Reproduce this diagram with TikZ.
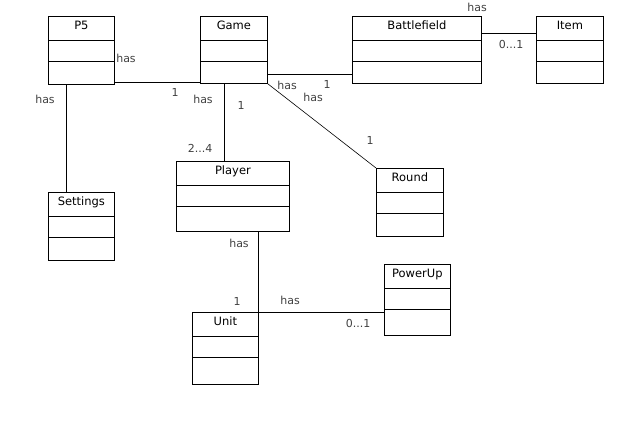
\documentclass[tikz,border=0pt]{standalone}
\usepackage{fontspec}
\setmainfont{DejaVu Sans}
\pgfdeclarelayer{bg}
\pgfsetlayers{bg,main}
\tikzset{
  cls/.style={draw, line width=0.8pt, anchor=north west, inner xsep=0pt, inner ysep=0pt,
    minimum width=67pt, text height=13pt, text depth=55pt,
    font=\fontsize{11.5}{13}\selectfont,
    path picture={
      \draw[line width=0.8pt] ([yshift=-24pt]path picture bounding box.north west) -- ([yshift=-24pt]path picture bounding box.north east);
      \draw[line width=0.8pt] ([yshift=-45pt]path picture bounding box.north west) -- ([yshift=-45pt]path picture bounding box.north east);
    }},
  lbl/.style={text=black!75, inner sep=0pt, font=\fontsize{11}{13}\selectfont},
  assoc/.style={line width=0.8pt}
}

\begin{document}
\begin{tikzpicture}[x=1pt, y=-1pt]
        \useasboundingbox (0,0) rectangle (631,444);
        % classes
        \node (p5) [cls, minimum width=66pt] at (48,16) {P5};
        \node (game) [cls, text depth=54pt] at (200,16) {Game};
        \node (battlefield) [cls, minimum width=129pt, text depth=54pt] at (352,16) {Battlefield};
        \node (item) [cls, text depth=54pt] at (536,16) {Item};
        \node (settings) [cls, minimum width=66pt] at (48,192) {Settings};
        \node (player) [cls, minimum width=113pt, text depth=57pt] at (176,161) {Player};
        \node (round) [cls] at (376,168) {Round};
        \node (powerup) [cls, minimum width=66pt, text depth=58pt] at (384,264) {PowerUp};
        \node (unit) [cls, minimum width=66pt, text depth=59pt] at (192,312) {Unit};
        % labels
        \node (lp5has) [lbl] at (126,58) {has};
        \node (lp5one) [lbl] at (175,92) {1};
        \node (lsethas) [lbl] at (45,99) {has};
        \node (lplhas) [lbl] at (203,99) {has};
        \node (lplone) [lbl] at (241,105) {1};
        \node (lplmult) [lbl] at (200,148) {2...4};
        \node (lbfhas) [lbl] at (287,85) {has};
        \node (lbfone) [lbl] at (327,84) {1};
        \node (lrdhas) [lbl] at (313,97) {has};
        \node (lrdone) [lbl] at (370,140) {1};
        \node (lithas) [lbl] at (477,7) {has};
        \node (litmult) [lbl] at (511,44) {0...1};
        \node (lunhas) [lbl] at (239,243) {has};
        \node (lunone) [lbl] at (237,301) {1};
        \node (lpuhas) [lbl] at (290,300) {has};
        \node (lpumult) [lbl] at (358,323) {0...1};
        \begin{pgfonlayer}{bg}
                \draw [assoc] ([yshift=1pt]game.south west -| p5.east) -- ([yshift=1pt]game.south west);
                \draw [assoc] ([xshift=-15pt]p5.south) -- ([xshift=-15pt]p5.south |- settings.north);
                \draw [assoc] ([xshift=-9.5pt]game.south) -- ([xshift=-9.5pt]game.south |- player.north);
                \draw [assoc] ([yshift=9pt]game.south east) -- ([yshift=9pt]game.south east -| battlefield.west);
                \draw [assoc, line width=0.6pt] (game.south east) -- (round.north west);
                \draw [assoc] ([yshift=-17pt]battlefield.north east) -- ([yshift=-17pt]battlefield.north east -| item.west);
                \draw [assoc] (unit.north east |- player.south) -- (unit.north east);
                \draw [assoc] (unit.north east) -- (unit.north east -| powerup.west);
        \end{pgfonlayer}
\end{tikzpicture}
\end{document}
